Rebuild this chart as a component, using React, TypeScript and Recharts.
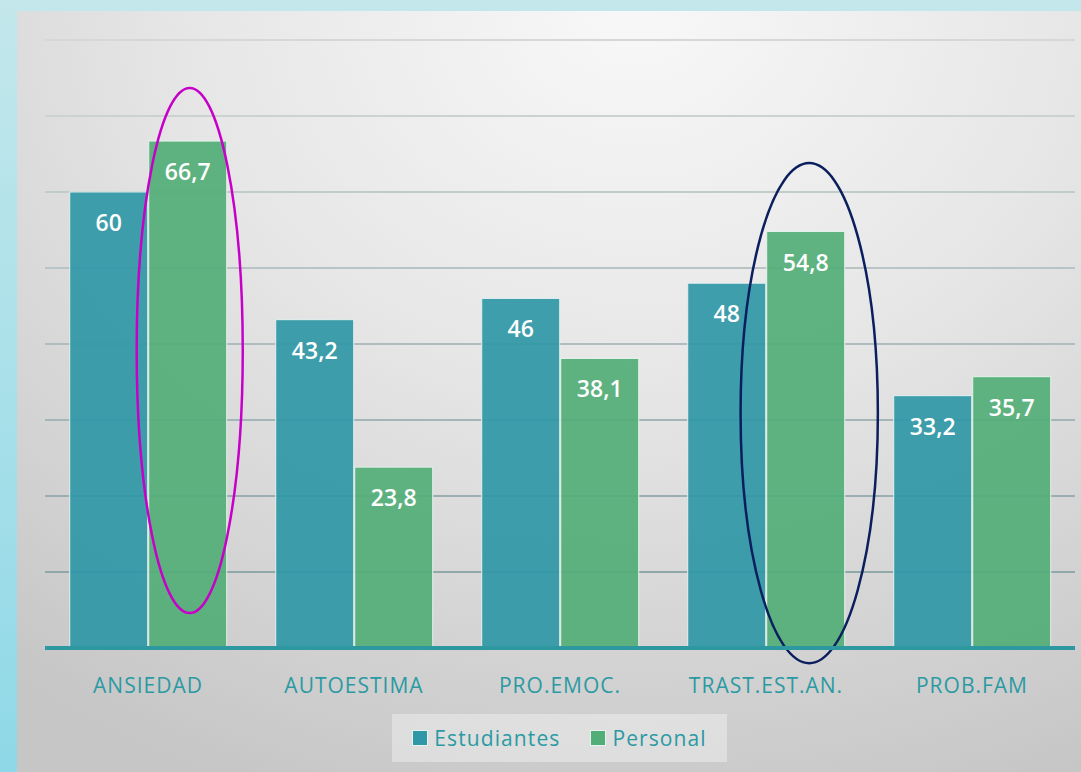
import React from "react";
import { BarChart, Bar, XAxis, YAxis, CartesianGrid, LabelList, Legend } from "recharts";

const categories = ["ANSIEDAD", "AUTOESTIMA", "PRO.EMOC.", "TRAST.EST.AN.", "PROB.FAM"];
const estudiantes = [60, 43.2, 46, 48, 33.2];
const personal = [66.7, 23.8, 38.1, 54.8, 35.7];
const yTicks = [0, 10, 20, 30, 40, 50, 60, 70, 80];

// highlighted categories (ellipse drawn round the Personal bar), top/bottom in data units
const highlights = [
  { category: "ANSIEDAD", color: "#c700c9", top: 73.7, bottom: 4.6, widen: 0.68, shift: 2 },
  { category: "TRAST.EST.AN.", color: "#0b1f5e", top: 63.8, bottom: -2, widen: 0.88, shift: 3.5 },
];

const data = categories.map((name, i) => ({
  name,
  Estudiantes: estudiantes[i],
  Personal: personal[i],
}));

const TEAL = "#2f97a6";
const GREEN = "#52ae77";
const TEXT_TEAL = "#2b9aa3";
const FONT = "'Open Sans', sans-serif";

const fmt = (v: number) => String(v).replace(".", ",");

const renderValue = (props: any) => {
  const { x, y, width, value } = props;
  return (
    <text
      x={x + width / 2}
      y={y + 30}
      textAnchor="middle"
      dominantBaseline="central"
      fill="#ffffff"
      fontFamily={FONT}
      fontWeight={600}
      fontSize={23}
    >
      {fmt(value)}
    </text>
  );
};

const PersonalShape = (props: any) => {
  const { x, y, width, height, payload, value } = props;
  const hl = highlights.find((h) => h.category === payload.name);
  let ellipse = null;
  if (hl) {
    const base = y + height;
    const perUnit = height / value;
    const top = base - hl.top * perUnit;
    const bottom = base - hl.bottom * perUnit;
    ellipse = (
      <ellipse
        cx={x + width / 2 + hl.shift}
        cy={(top + bottom) / 2}
        rx={width * hl.widen}
        ry={(bottom - top) / 2}
        fill="none"
        stroke={hl.color}
        strokeWidth={2.5}
      />
    );
  }
  return (
    <g>
      <rect x={x} y={y} width={width} height={height} fill={GREEN} fillOpacity={0.92} stroke="#e6f2ec" strokeWidth={1} />
      {ellipse}
    </g>
  );
};

const XTick = (props: any) => {
  const { x, y, payload } = props;
  return (
    <text
      x={x}
      y={y + 29}
      textAnchor="middle"
      dominantBaseline="central"
      fill={TEXT_TEAL}
      fontFamily={FONT}
      fontSize={21}
      letterSpacing={1}
    >
      {payload.value}
    </text>
  );
};

const LegendBox = () => (
  <div
    style={{
      width: "100%",
      height: "100%",
      background: "rgba(255,255,255,0.35)",
      display: "flex",
      alignItems: "center",
      justifyContent: "center",
      gap: 30,
      fontFamily: FONT,
      fontSize: 21,
      letterSpacing: 1.1,
      color: TEXT_TEAL,
    }}
  >
    {[
      { label: "Estudiantes", color: TEAL },
      { label: "Personal", color: GREEN },
    ].map((it) => (
      <div key={it.label} style={{ display: "flex", alignItems: "center", gap: 6 }}>
        <span
          style={{
            display: "inline-block",
            width: 14,
            height: 14,
            background: it.color,
            border: "1px solid #e8f3ef",
          }}
        />
        <span>{it.label}</span>
      </div>
    ))}
  </div>
);

export default function App() {
  return (
    <div
      style={{
        position: "absolute",
        left: 0,
        top: 0,
        width: 1081,
        height: 772,
        overflow: "hidden",
        background: "linear-gradient(180deg, #c3e7eb 0%, #a9e0e9 50%, #8fd8e7 100%)",
      }}
    >
      <div
        style={{
          position: "absolute",
          left: 17,
          top: 11,
          right: 0,
          bottom: 0,
          background: "radial-gradient(ellipse 95% 110% at 58% 0%, #f8f8f8 0%, #e6e6e6 45%, #c6c6c6 100%)",
        }}
      />
      <div style={{ position: "absolute", left: 0, top: 0 }}>
        <BarChart
          width={1081}
          height={772}
          data={data}
          margin={{ top: 40, right: 6, bottom: 84, left: 45 }}
          barCategoryGap="12%"
          barGap={1}
        >
          <defs>
            <linearGradient id="gridGrad" gradientUnits="userSpaceOnUse" x1="0" y1="40" x2="0" y2="648">
              <stop offset="0%" stopColor="#d6d8d8" />
              <stop offset="100%" stopColor="#87a1a4" />
            </linearGradient>
          </defs>
          <CartesianGrid vertical={false} stroke="url(#gridGrad)" strokeWidth={2} />
          <YAxis hide domain={[0, 80]} ticks={yTicks} />
          <XAxis
            dataKey="name"
            height={40}
            tickLine={false}
            axisLine={{ stroke: "#2e98a0", strokeWidth: 4 }}
            tick={<XTick />}
            interval={0}
          />
          <Legend
            layout="horizontal"
            verticalAlign="middle"
            align="center"
            content={<LegendBox />}
            wrapperStyle={{ left: 392, top: 714, width: 335, height: 48 }}
          />
          <Bar
            dataKey="Estudiantes"
            fill={TEAL}
            fillOpacity={0.92}
            stroke="#e6f0f0"
            strokeWidth={1}
            isAnimationActive={false}
          >
            <LabelList dataKey="Estudiantes" content={renderValue} />
          </Bar>
          <Bar dataKey="Personal" fill={GREEN} shape={<PersonalShape />} isAnimationActive={false}>
            <LabelList dataKey="Personal" content={renderValue} />
          </Bar>
        </BarChart>
      </div>
    </div>
  );
}
